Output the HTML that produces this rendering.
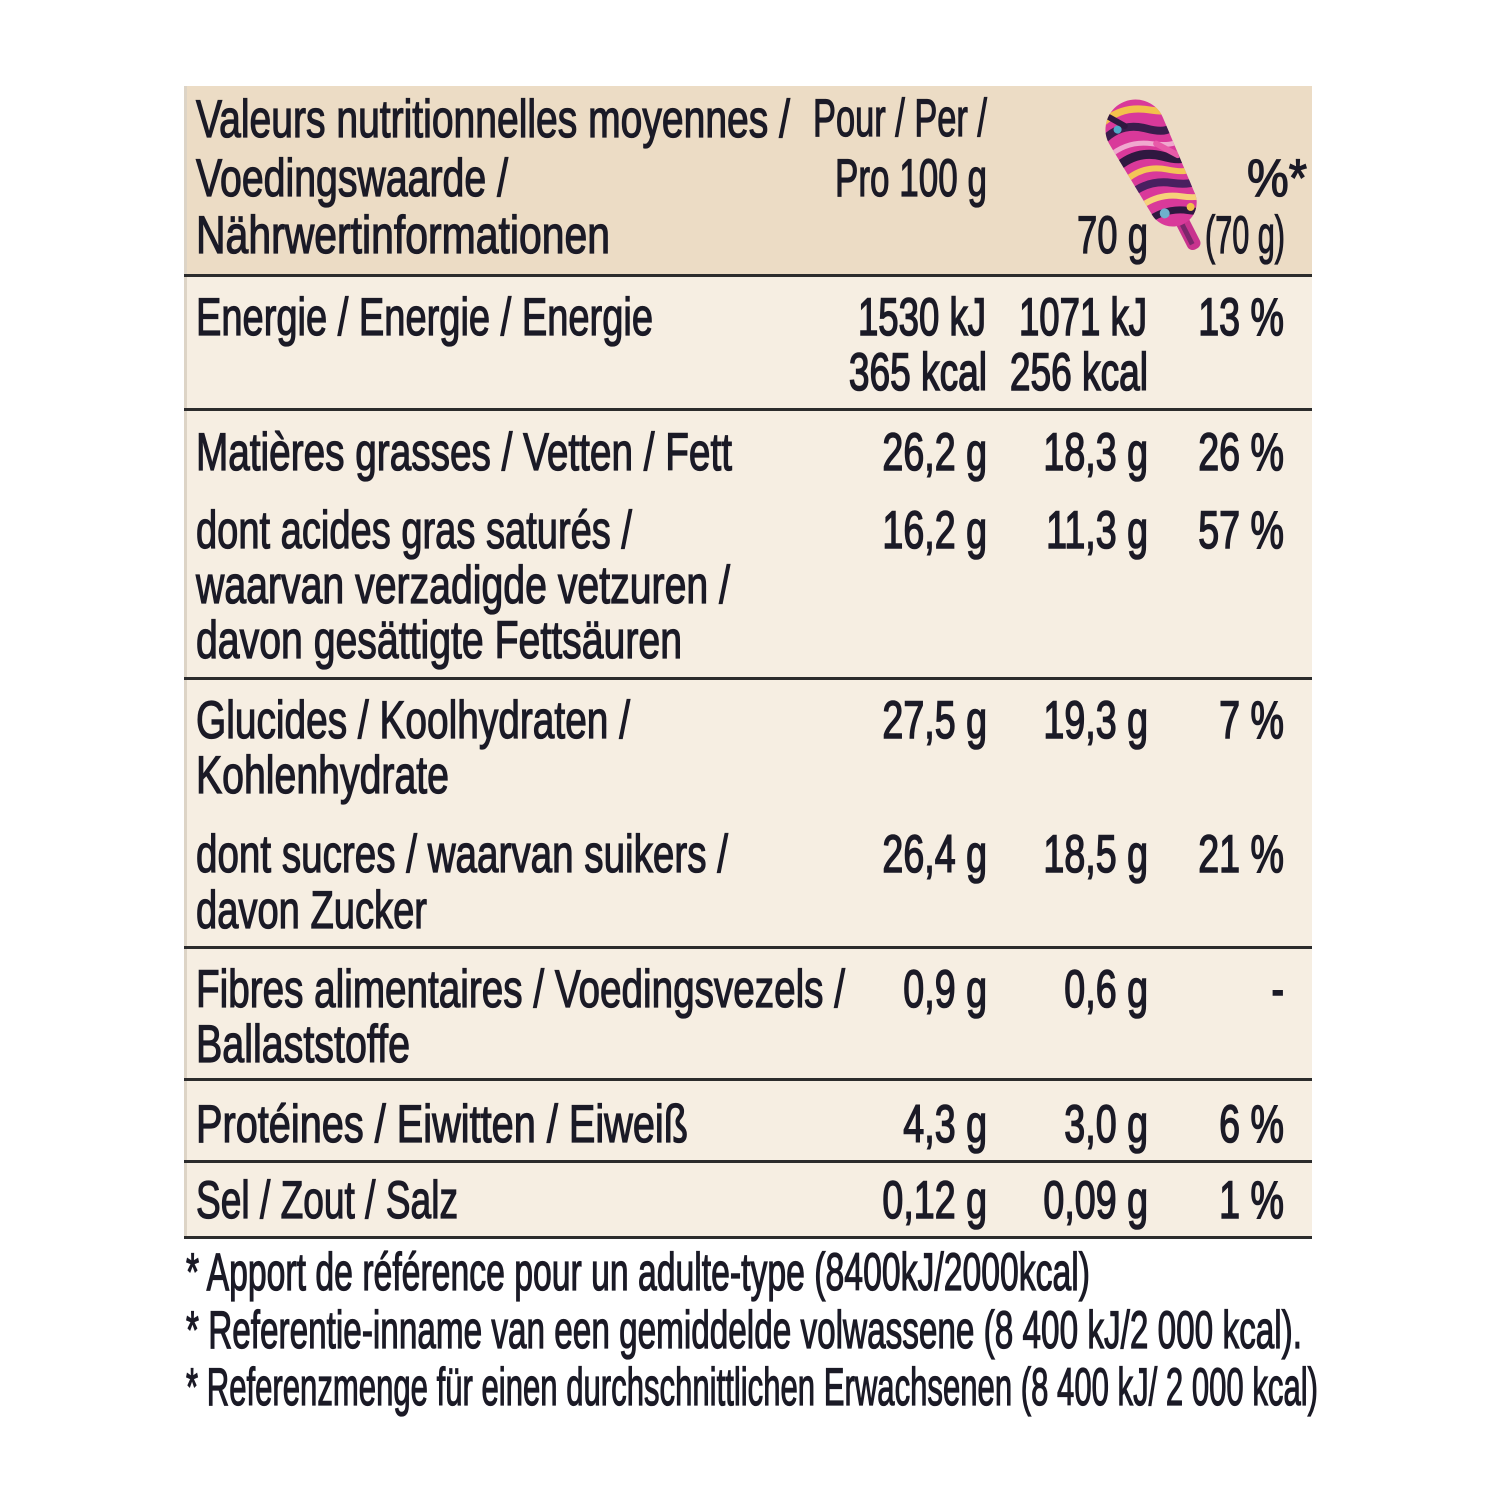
<!DOCTYPE html>
<html>
<head>
<meta charset="utf-8">
<style>
  html, body { margin: 0; padding: 0; background: #ffffff; }
  svg { display: block; }
  text { font-family: "Liberation Sans", "DejaVu Sans", sans-serif; font-size: 53px; fill: #1b1a26; }
  .l { stroke: #1b1a26; stroke-width: 1.3px; }
  .n { stroke: #1b1a26; stroke-width: 1.6px; }
</style>
</head>
<body>
<svg width="1500" height="1500" viewBox="0 0 1500 1500" xmlns="http://www.w3.org/2000/svg">
  <defs>
    <clipPath id="popclip">
      <path d="M -30,-32 A 30 30 0 0 1 30,-32 L 24,50 A 24 24 0 0 1 -24,50 Z"/>
    </clipPath>
  </defs>
  <rect x="0" y="0" width="1500" height="1500" fill="#ffffff"/>

  <!-- header background -->
  <rect x="184" y="86" width="1128" height="190" fill="#ecdcc5"/>
  <!-- body background -->
  <rect x="184" y="276" width="1128" height="961" fill="#f6eee2"/>
  <!-- faint left edge -->
  <rect x="184" y="86" width="3" height="1151" fill="#ddd4c6"/>

  <!-- horizontal rules -->
  <g fill="#2c2c2c">
    <rect x="184" y="274" width="1128" height="3"/>
    <rect x="184" y="408" width="1128" height="3"/>
    <rect x="184" y="677" width="1128" height="3"/>
    <rect x="184" y="946" width="1128" height="3"/>
    <rect x="184" y="1078" width="1128" height="3"/>
    <rect x="184" y="1160" width="1128" height="3"/>
    <rect x="184" y="1236" width="1128" height="3"/>
  </g>

  <!-- popsicle -->
  <g transform="translate(1150,158) rotate(-27)">
    <rect x="-7" y="66" width="14" height="36" rx="6" fill="#c8338e"/>
    <rect x="-4" y="74" width="5" height="22" fill="#3b1d4f" opacity="0.55"/>
    <g clip-path="url(#popclip)">
      <rect x="-40" y="-70" width="80" height="150" fill="#d9399a"/>
      <g fill="none" stroke-linecap="round">
        <path d="M -34,-50 Q -5,-62 20,-44 T 40,-40" stroke="#f2c14c" stroke-width="7"/>
        <path d="M -36,-36 Q -10,-46 10,-28 T 38,-22" stroke="#3a1c4c" stroke-width="8"/>
        <path d="M -36,-20 Q -12,-26 8,-12 T 38,-4" stroke="#f0a8cf" stroke-width="5"/>
        <path d="M -36,-6 Q -8,-14 12,4 T 38,12" stroke="#2f1840" stroke-width="9"/>
        <path d="M -36,10 Q -10,2 10,18 T 38,26" stroke="#f3c557" stroke-width="6"/>
        <path d="M -36,24 Q -12,18 8,32 T 38,40" stroke="#4a2060" stroke-width="8"/>
        <path d="M -36,40 Q -10,34 10,48 T 38,56" stroke="#f6d27a" stroke-width="6"/>
        <path d="M -36,56 Q -10,50 10,64 T 38,72" stroke="#2f1840" stroke-width="7"/>
        <path d="M -20,-58 L -8,-40" stroke="#2f1840" stroke-width="6"/>
        <path d="M 12,-10 L 26,10" stroke="#e85aa8" stroke-width="6"/>
      </g>
      <circle cx="-16" cy="-40" r="4" fill="#4fa9c9"/>
      <circle cx="-12" cy="56" r="5" fill="#6fb0cc"/>
      <circle cx="14" cy="62" r="4" fill="#f2c14c"/>
    </g>
  </g>

  <!-- header text -->
  <text class="l" x="196" y="137" textLength="594" lengthAdjust="spacingAndGlyphs">Valeurs nutritionnelles moyennes /</text>
  <text class="l" x="196" y="196" textLength="312" lengthAdjust="spacingAndGlyphs">Voedingswaarde /</text>
  <text class="l" x="196" y="253" textLength="414" lengthAdjust="spacingAndGlyphs">Nährwertinformationen</text>
  <text class="l" x="813" y="136" textLength="174" lengthAdjust="spacingAndGlyphs">Pour / Per /</text>
  <text class="l" x="835" y="196" textLength="152" lengthAdjust="spacingAndGlyphs">Pro 100 g</text>
  <text class="l" x="1077" y="253" textLength="71" lengthAdjust="spacingAndGlyphs">70 g</text>
  <text class="l" x="1247" y="196" textLength="60" lengthAdjust="spacingAndGlyphs">%*</text>
  <text class="l" x="1205" y="253" textLength="80" lengthAdjust="spacingAndGlyphs">(70 g)</text>

  <!-- labels -->
  <text class="l" x="196" y="335" textLength="457" lengthAdjust="spacingAndGlyphs">Energie / Energie / Energie</text>
  <text class="l" x="196" y="470" textLength="536" lengthAdjust="spacingAndGlyphs">Matières grasses / Vetten / Fett</text>
  <text class="l" x="196" y="548" textLength="436" lengthAdjust="spacingAndGlyphs">dont acides gras saturés /</text>
  <text class="l" x="196" y="603" textLength="534" lengthAdjust="spacingAndGlyphs">waarvan verzadigde vetzuren /</text>
  <text class="l" x="196" y="658" textLength="486" lengthAdjust="spacingAndGlyphs">davon gesättigte Fettsäuren</text>
  <text class="l" x="196" y="738" textLength="434" lengthAdjust="spacingAndGlyphs">Glucides / Koolhydraten /</text>
  <text class="l" x="196" y="793" textLength="253" lengthAdjust="spacingAndGlyphs">Kohlenhydrate</text>
  <text class="l" x="196" y="872" textLength="532" lengthAdjust="spacingAndGlyphs">dont sucres / waarvan suikers /</text>
  <text class="l" x="196" y="928" textLength="231" lengthAdjust="spacingAndGlyphs">davon Zucker</text>
  <text class="l" x="196" y="1007" textLength="649" lengthAdjust="spacingAndGlyphs">Fibres alimentaires / Voedingsvezels /</text>
  <text class="l" x="196" y="1062" textLength="214" lengthAdjust="spacingAndGlyphs">Ballaststoffe</text>
  <text class="l" x="196" y="1142" textLength="492" lengthAdjust="spacingAndGlyphs">Protéines / Eiwitten / Eiweiß</text>
  <text class="l" x="196" y="1218" textLength="262" lengthAdjust="spacingAndGlyphs">Sel / Zout / Salz</text>

  <!-- numbers column 1 (right edge 987) -->
  <g text-anchor="end">
    <text class="n" transform="translate(986,335) scale(0.69,1)">1530 kJ</text>
    <text class="n" transform="translate(987,390) scale(0.70,1)">365 kcal</text>
    <text class="n" transform="translate(987,470) scale(0.71,1)">26,2 g</text>
    <text class="n" transform="translate(987,548) scale(0.71,1)">16,2 g</text>
    <text class="n" transform="translate(987,738) scale(0.71,1)">27,5 g</text>
    <text class="n" transform="translate(987,872) scale(0.71,1)">26,4 g</text>
    <text class="n" transform="translate(987,1007) scale(0.71,1)">0,9 g</text>
    <text class="n" transform="translate(987,1142) scale(0.71,1)">4,3 g</text>
    <text class="n" transform="translate(987,1218) scale(0.71,1)">0,12 g</text>

    <!-- column 2 (right edge 1148) -->
    <text class="n" transform="translate(1147,335) scale(0.69,1)">1071 kJ</text>
    <text class="n" transform="translate(1148,390) scale(0.70,1)">256 kcal</text>
    <text class="n" transform="translate(1148,470) scale(0.71,1)">18,3 g</text>
    <text class="n" transform="translate(1148,548) scale(0.71,1)">11,3 g</text>
    <text class="n" transform="translate(1148,738) scale(0.71,1)">19,3 g</text>
    <text class="n" transform="translate(1148,872) scale(0.71,1)">18,5 g</text>
    <text class="n" transform="translate(1148,1007) scale(0.71,1)">0,6 g</text>
    <text class="n" transform="translate(1148,1142) scale(0.71,1)">3,0 g</text>
    <text class="n" transform="translate(1148,1218) scale(0.71,1)">0,09 g</text>

    <!-- column 3 (right edge 1284) -->
    <text class="n" transform="translate(1284,335) scale(0.71,1)">13 %</text>
    <text class="n" transform="translate(1284,470) scale(0.71,1)">26 %</text>
    <text class="n" transform="translate(1284,548) scale(0.71,1)">57 %</text>
    <text class="n" transform="translate(1284,738) scale(0.71,1)">7 %</text>
    <text class="n" transform="translate(1284,872) scale(0.71,1)">21 %</text>
    <text class="n" transform="translate(1284,1007) scale(0.71,1)">-</text>
    <text class="n" transform="translate(1284,1142) scale(0.71,1)">6 %</text>
    <text class="n" transform="translate(1284,1218) scale(0.71,1)">1 %</text>
  </g>

  <!-- footnotes -->
  <text class="l" x="186" y="1290" textLength="904" lengthAdjust="spacingAndGlyphs">* Apport de référence pour un adulte-type (8400kJ/2000kcal)</text>
  <text class="l" x="186" y="1348" textLength="1116" lengthAdjust="spacingAndGlyphs">* Referentie-inname van een gemiddelde volwassene (8 400 kJ/2 000 kcal).</text>
  <text class="l" x="186" y="1405" textLength="1132" lengthAdjust="spacingAndGlyphs">* Referenzmenge für einen durchschnittlichen Erwachsenen (8 400 kJ/ 2 000 kcal)</text>
</svg>
</body>
</html>
